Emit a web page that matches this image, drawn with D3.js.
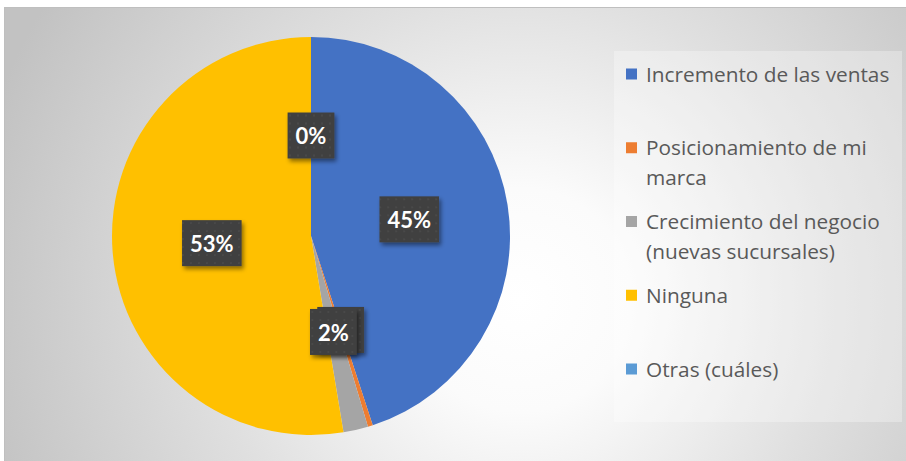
<!DOCTYPE html>
<html>
<head>
<meta charset="utf-8">
<script src="https://cdn.jsdelivr.net/npm/d3@7"></script>
<style>
    body { margin: 0; background: #ffffff; }
    svg { display: block; }
</style>
</head>
<body>
<svg id="chart" width="906" height="461"></svg>
<script>
// categories and values (counts, shown as %)
const categories = [
    'Incremento de las ventas',
    'Posicionamiento de mi marca',
    'Crecimiento del negocio (nuevas sucursales)',
    'Ninguna',
    'Otras (cuáles)'
];
const counts = [112, 1, 5, 131, 0];
const colors = ['#4472C4', '#ED7D31', '#A5A5A5', '#FFC000', '#5B9BD5'];

const width = 906, height = 461;
const svg = d3.select('#chart');
const defs = svg.append('defs');

// radial background like the office "gradient fill"
const grad = defs.append('radialGradient')
    .attr('id', 'bg')
    .attr('gradientUnits', 'userSpaceOnUse')
    .attr('cx', 520).attr('cy', 300).attr('r', 560);
grad.append('stop').attr('offset', 0).attr('stop-color', '#ffffff');
grad.append('stop').attr('offset', 0.2).attr('stop-color', '#fbfbfb');
grad.append('stop').attr('offset', 0.55).attr('stop-color', '#e0e0e0');
grad.append('stop').attr('offset', 1).attr('stop-color', '#c2c2c2');

// dotted dark pattern for the data labels
const pat = defs.append('pattern')
    .attr('id', 'dots')
    .attr('patternUnits', 'userSpaceOnUse')
    .attr('width', 8).attr('height', 8);
pat.append('rect').attr('width', 8).attr('height', 8).attr('fill', '#3f3f3f');
pat.append('rect').attr('x', 2).attr('y', 2).attr('width', 2).attr('height', 2).attr('fill', '#494949');

const shadow = defs.append('filter').attr('id', 'shadow')
    .attr('x', '-20%').attr('y', '-20%').attr('width', '150%').attr('height', '150%');
shadow.append('feDropShadow')
    .attr('dx', 2).attr('dy', 3).attr('stdDeviation', 2)
    .attr('flood-color', '#000').attr('flood-opacity', 0.45);

// chart area
svg.append('rect')
    .attr('x', 4.5).attr('y', 7.5)
    .attr('width', width + 10).attr('height', height + 10)
    .attr('fill', 'url(#bg)')
    .attr('stroke', '#bfbfbf').attr('stroke-width', 1);

// pie
const cx = 311, cy = 236, R = 199;
const total = d3.sum(counts);
const pie = d3.pie().sort(null).value(d => d)(counts);
const arc = d3.arc().innerRadius(0).outerRadius(R);
const labelArc = d3.arc().innerRadius(R * 0.5).outerRadius(R * 0.5);

const g = svg.append('g').attr('transform', `translate(${cx},${cy})`);

g.selectAll('path.slice')
    .data(pie)
    .join('path')
    .attr('class', 'slice')
    .attr('d', arc)
    .attr('fill', (d, i) => colors[i]);

// data labels (drawn in slice order, so later ones sit on top)
const labels = g.selectAll('g.lbl')
    .data(pie)
    .join('g')
    .attr('class', 'lbl')
    .attr('transform', d => `translate(${labelArc.centroid(d)})`);

labels.append('rect').attr('class', 'box');
labels.append('text')
    .attr('text-anchor', 'middle')
    .attr('dy', '0.36em')
    .attr('fill', '#ffffff')
    .attr('font-family', 'Lato, "Open Sans", sans-serif')
    .attr('font-weight', 700)
    .attr('font-size', 22)
    .text(d => Math.round(d.data / total * 100) + '%');

labels.each(function () {
    const t = d3.select(this).select('text').node();
    const w = t.getComputedTextLength() + 16;
    const h = 46;
    d3.select(this).select('rect.box')
        .attr('x', -w / 2).attr('y', -h / 2 - 1)
        .attr('width', w).attr('height', h)
        .attr('fill', 'url(#dots)')
        .attr('filter', 'url(#shadow)');
});

// the orange label is hidden under the grey one in the original; only its box edge shows
labels.filter(d => d.index === 1).select('text').remove();

// legend with its pale box
svg.append('rect')
    .attr('x', 614).attr('y', 51)
    .attr('width', 288).attr('height', 371)
    .attr('fill', '#ffffff').attr('fill-opacity', 0.3);

const legend = svg.append('g').attr('transform', 'translate(626,74)');
const maxW = 252, lineH = 30, slot = 73.75;

const items = legend.selectAll('g.item')
    .data(categories)
    .join('g')
    .attr('class', 'item')
    .attr('transform', (d, i) => `translate(0,${i * slot})`);

items.append('rect')
    .attr('x', 0).attr('y', -5.5)
    .attr('width', 11).attr('height', 11)
    .attr('fill', (d, i) => colors[i]);

items.each(function (d) {
    const text = d3.select(this).append('text')
        .attr('fill', '#595959')
        .attr('font-family', '"Open Sans", sans-serif')
        .attr('font-size', 20.8);
    const newLine = n => text.append('tspan')
        .attr('x', 20).attr('y', n * lineH).attr('dy', '0.36em');
    // simple word wrap
    const words = d.split(' ');
    let line = [];
    let lineNo = 0;
    let tspan = newLine(0);
    words.forEach(w => {
        line.push(w);
        tspan.text(line.join(' '));
        if (tspan.node().getComputedTextLength() > maxW && line.length > 1) {
            line.pop();
            tspan.text(line.join(' '));
            line = [w];
            lineNo++;
            tspan = newLine(lineNo).text(w);
        }
    });
});
</script>
</body>
</html>
